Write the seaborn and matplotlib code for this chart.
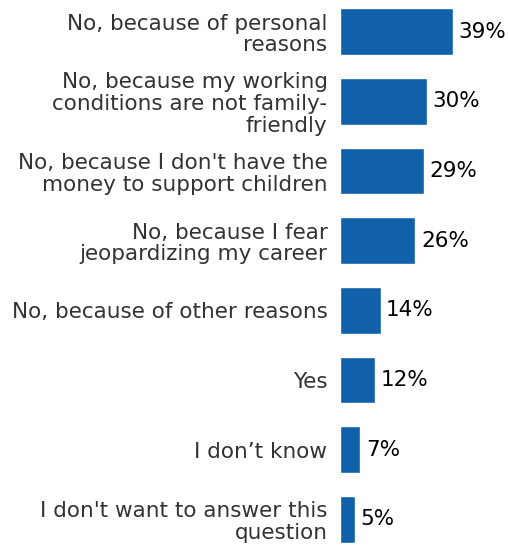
import matplotlib
matplotlib.use("Agg")
import matplotlib.pyplot as plt
import seaborn as sns
import pandas as pd

categories = [
    "No, because of personal\nreasons",
    "No, because my working\nconditions are not family-\nfriendly",
    "No, because I don't have the\nmoney to support children",
    "No, because I fear\njeopardizing my career",
    "No, because of other reasons",
    "Yes",
    "I don\u2019t know",
    "I don't want to answer this\nquestion",
]
values = [39, 30, 29, 26, 14, 12, 7, 5]
value_labels = ["39%", "30%", "29%", "26%", "14%", "12%", "7%", "5%"]

df = pd.DataFrame({"category": categories, "value": values})

sns.set_style("white")
plt.rcParams['font.family'] = ['DejaVu Sans']

fig = plt.figure(figsize=(5.08, 5.47), dpi=100)
ax = fig.add_axes([340/508, 0, 168/508, 1])
sns.barplot(data=df, x="value", y="category", color="#1060aa", width=0.67,
            saturation=1, ax=ax, orient="h")

ax.set_xlim(0, 168/2.9)
ax.set_ylim(7.396, -0.452)
for i, (v, lab) in enumerate(zip(values, value_labels)):
    ax.annotate(lab, xy=(v, i), xytext=(4, 0), textcoords="offset points",
                va="center", ha="left", fontsize=15.5, color="black")

ax.set_xlabel("")
ax.set_ylabel("")
ax.set_xticks([])
ax.tick_params(axis="y", length=4, width=0.8, color="#555555", labelsize=15.5,
               labelcolor="#333333", pad=5)
for lab in ax.get_yticklabels():
    lab.set_linespacing(1.1)
for s in ax.spines.values():
    s.set_visible(False)

fig.savefig("out.png", dpi=100)
